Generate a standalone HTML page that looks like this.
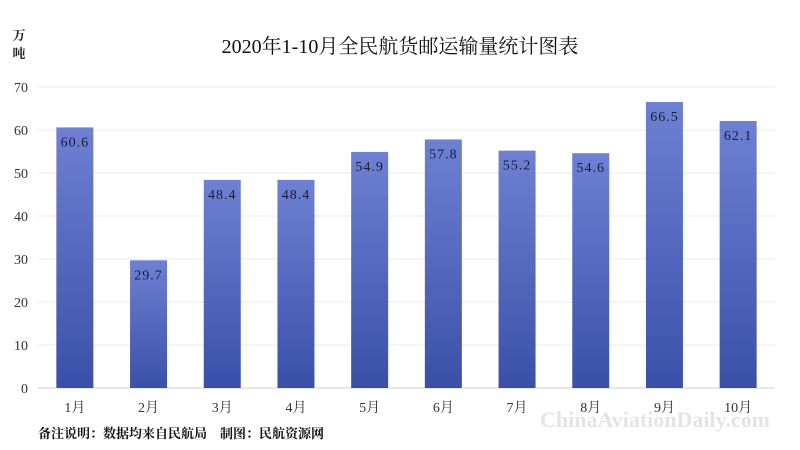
<!DOCTYPE html>
<html><head><meta charset="utf-8">
<style>
body{margin:0;background:#fff;width:800px;height:450px;overflow:hidden;font-family:"Liberation Serif","Noto Serif CJK SC",serif;}
svg{display:block}
</style></head>
<body>
<svg id="chart" width="800" height="450">
<defs><linearGradient id="g" x1="0" y1="0" x2="0" y2="1"><stop offset="0" stop-color="#6e80d2"/><stop offset="1" stop-color="#3a50a8"/></linearGradient></defs>
<text x="400" y="53" text-anchor="middle" font-size="20" fill="#111">2020年1-10月全民航货邮运输量统计图表</text>
<text x="19" y="40" text-anchor="middle" font-size="13" font-weight="bold" fill="#222">万</text>
<text x="19" y="58" text-anchor="middle" font-size="13" font-weight="bold" fill="#222">吨</text>
<g id="grid"></g><g id="bars"></g>
<text x="38" y="438" font-size="13" font-weight="bold" fill="#111">备注说明：数据均来自民航局　制图：民航资源网</text>
<text x="655" y="427" text-anchor="middle" font-size="22" font-weight="bold" fill="#e4e4e4">ChinaAviationDaily.com</text>
</svg>
<script>
const categories=["1月","2月","3月","4月","5月","6月","7月","8月","9月","10月"];
const values=[60.6,29.7,48.4,48.4,54.9,57.8,55.2,54.6,66.5,62.1];
const ticks=[0,10,20,30,40,50,60,70];
const NS="http://www.w3.org/2000/svg";
const x0=38,x1=775,y0=388,y70=87;
const y=v=>y0-(v/70)*(y0-y70);
const step=(x1-x0)/categories.length;
const xc=i=>x0+step*(i+0.5);
function mk(t,a,p){const e=document.createElementNS(NS,t);for(const k in a)e.setAttribute(k,a[k]);p.appendChild(e);return e;}
const grid=document.getElementById('grid'),bars=document.getElementById('bars');
ticks.forEach(t=>{
 const l=mk('line',{x1:x0,x2:x1,y1:y(t),y2:y(t),stroke:t===0?'#d0d0d0':'#e8e8e8','stroke-width':1},grid);
 
 
 const tx=mk('text',{x:28,y:y(t)+5,'text-anchor':'end','font-size':14,fill:'#333'},grid);
 tx.textContent=t;
 
 
});
const bw=37;
values.forEach((v,i)=>{
 const r=mk('rect',{x:xc(i)-bw/2,y:y(v),width:bw,height:y0-y(v),fill:'url(#g)'},bars);
 
 
 const lb=mk('text',{x:xc(i),y:y(v)+19,'text-anchor':'middle','font-size':14,'letter-spacing':1,fill:'#1a1a3a'},bars);
 lb.textContent=v.toFixed(1);
 
 
 const c=mk('text',{x:xc(i),y:412,'text-anchor':'middle','font-size':14,fill:'#333'},bars);
 c.textContent=categories[i];
 
 
});
</script>
</body></html>
